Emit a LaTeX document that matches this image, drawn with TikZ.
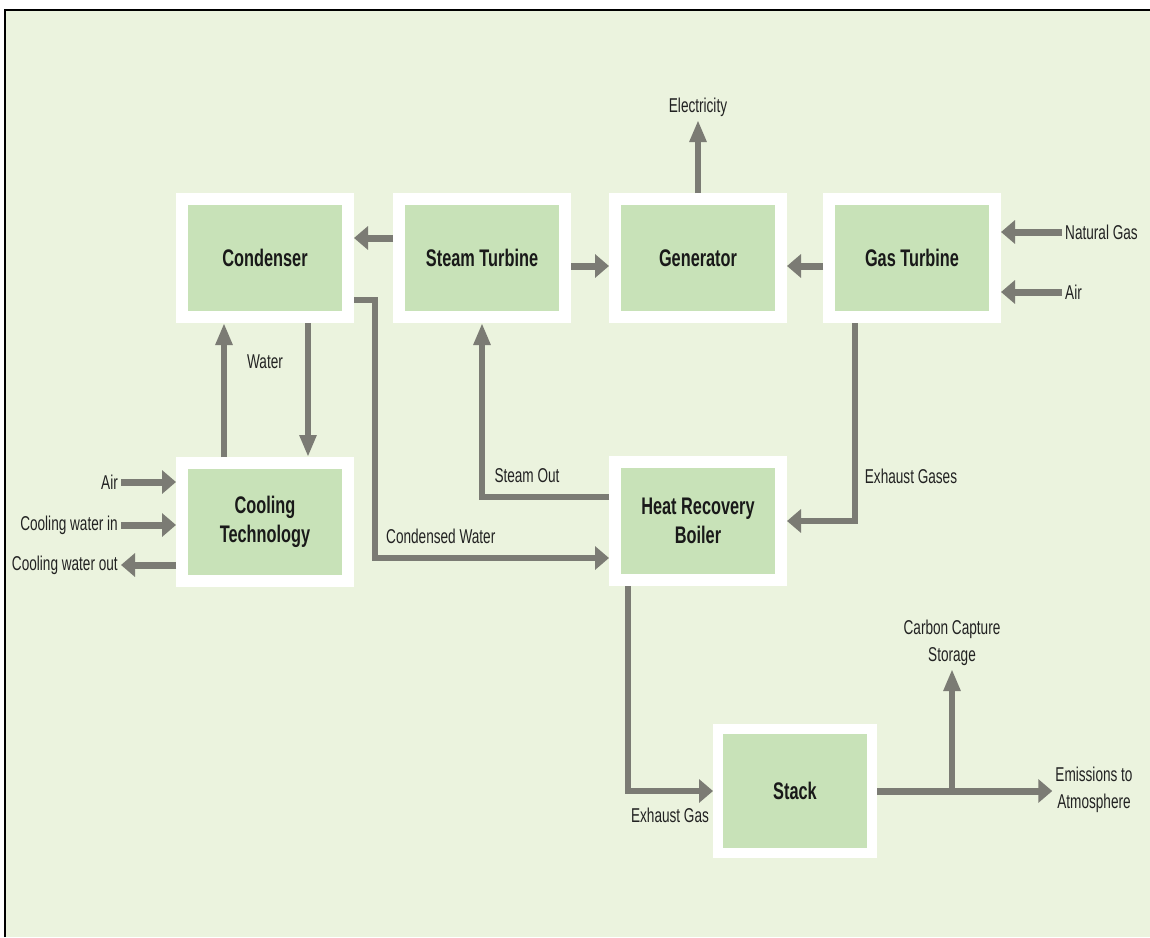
\documentclass[tikz,border=0pt]{standalone}
\usepackage{fontspec}
\setmainfont{Liberation Sans}[FakeStretch=0.68]
\usepackage{tikz}
\usetikzlibrary{
  arrows.meta,
  positioning,
  calc
}

\definecolor{bgcol}{HTML}{EBF3DE}
\definecolor{boxcol}{HTML}{C8E2B8}
\definecolor{flowcol}{HTML}{7B7B74}
\definecolor{txtcol}{HTML}{222222}

\begin{document}
\begin{tikzpicture}[
    x=1pt, y=-1pt,
    unit/.style={draw=white, line width=12pt, fill=boxcol,
      minimum width=166pt, minimum height=118pt,
      font=\fontsize{24}{29}\selectfont\bfseries, text=black!90, align=center},
    lbl/.style={font=\fontsize{20}{27}\selectfont, text=txtcol, align=center, inner sep=3pt},
    hflow/.style={draw=flowcol, line width=7pt, -{Triangle[length=14pt,width=23pt]}},
    vflow/.style={draw=flowcol, line width=5.5pt, -{Triangle[length=22pt,width=16pt]}}
    ]

    \useasboundingbox (0,0) rectangle (1150,937);
    \fill[white] (0,0) rectangle (1150,937);
    \fill[bgcol] (5,10) rectangle (1150,937);
    \draw[line width=2.5pt] (5,937) -- (5,10) -- (1150,10);

    % plant units
    \node[unit] (cond) at (265,258) {Condenser};
    \node[unit] (steam) at (482,258) {Steam Turbine};
    \node[unit] (gen) at (698,258) {Generator};
    \node[unit] (gas) at (912,258) {Gas Turbine};
    \node[unit] (cool) at (265,522) {Cooling\\Technology};
    \node[unit] (hrb) at (698,521) {Heat Recovery\\Boiler};
    \node[unit, minimum width=154pt, minimum height=124pt, line width=10pt] (stack) at (795,791) {Stack};

    % labels
    \node[lbl, above=73pt of gen] (elec) {Electricity};
    \node[lbl, anchor=west] (natgas) at (1062,232) {Natural Gas};
    \node[lbl, anchor=west] (gasair) at (1062,292) {Air};
    \node[lbl, anchor=east] (coolair) at (121,482) {Air};
    \node[lbl, anchor=east] (cwin) at (121,525) {Cooling water in};
    \node[lbl, anchor=east] (cwout) at (121,565) {Cooling water out};
    \node[lbl] (water) at (265,362) {Water};
    \node[lbl] (steamout) at (527,476) {Steam Out};
    \node[lbl] (exgases) at (911,476) {Exhaust Gases};
    \node[lbl, anchor=west] (condw) at (383,536) {Condensed Water};
    \node[lbl] (exgas) at (670,815) {Exhaust Gas};
    \node[lbl] (ccs) at (952,643) {Carbon Capture\\Storage};
    \node[lbl] (emis) at (1094,790) {Emissions to\\Atmosphere};
    \coordinate (cwbend) at (375,558);

    % flows
    \draw[hflow] ([yshift=20pt]steam.west) -- ([yshift=20pt]cond.east);
    \draw[hflow] ([yshift=-8pt]steam.east) -- ([yshift=-8pt]gen.west);
    \draw[hflow] ([yshift=-8pt]gas.west) -- ([yshift=-8pt]gen.east);
    \draw[hflow] (natgas.west) -- (natgas.west -| gas.east);
    \draw[hflow] (gasair.west) -- (gasair.west -| gas.east);
    \draw[vflow] (gen.north) -- (gen.north |- elec.south);
    \draw[vflow] ([xshift=43pt]cond.south) -- ([xshift=43pt]cool.north);
    \draw[vflow] ([xshift=-41pt]cool.north) -- ([xshift=-41pt]cond.south);
    \draw[hflow] (coolair.east) -- (coolair.east -| cool.west);
    \draw[hflow] (cwin.east) -- (cwin.east -| cool.west);
    \draw[hflow] (cwout.east -| cool.west) -- (cwout.east);
    \draw[hflow, line width=6pt] ([yshift=-42pt]cond.east) -| (cwbend) -- (cwbend -| hrb.west);
    \draw[vflow, line width=6pt] ([yshift=24pt]hrb.west) -| (steam.south);
    \draw[hflow, line width=6pt] ([xshift=-57pt]gas.south) |- (hrb.east);
    \draw[hflow, line width=6pt] ([xshift=-70pt]hrb.south) |- (stack.west);
    \draw[hflow] (stack.east) -- (stack.east -| emis.west);
    \draw[vflow] (ccs.south |- stack.east) -- (ccs.south);

\end{tikzpicture}
\end{document}
